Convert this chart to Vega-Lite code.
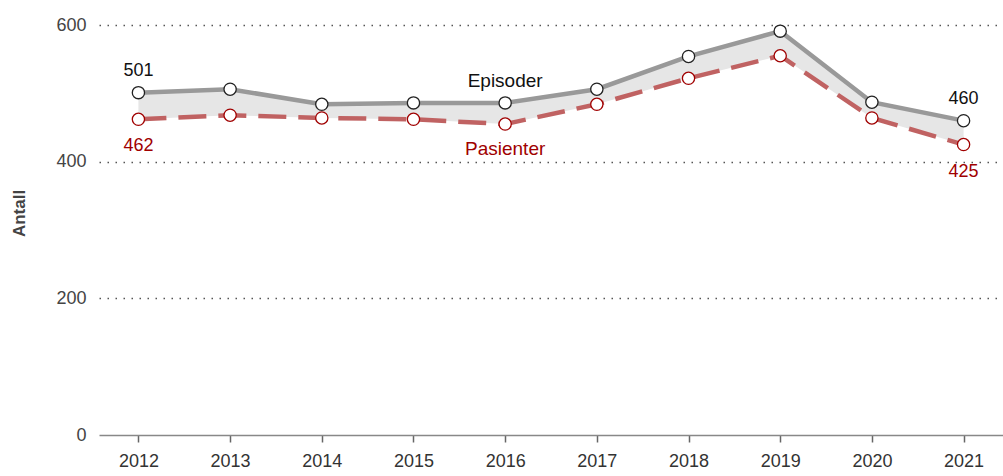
{
  "$schema": "https://vega.github.io/schema/vega-lite/v6.json",
  "autosize": {"type": "none"},
  "width": 904,
  "height": 410,
  "padding": {"left": 99, "top": 25, "right": 0, "bottom": 41},
  "background": "white",
  "config": {
    "view": {"stroke": null},
    "font": "Liberation Sans",
    "text": {"font": "Liberation Sans"}
  },
  "data": {
    "values": [
      {"year": "2012", "Episoder": 501, "Pasienter": 462},
      {"year": "2013", "Episoder": 506, "Pasienter": 468},
      {"year": "2014", "Episoder": 484, "Pasienter": 464},
      {"year": "2015", "Episoder": 486, "Pasienter": 462},
      {"year": "2016", "Episoder": 486, "Pasienter": 455},
      {"year": "2017", "Episoder": 506, "Pasienter": 484},
      {"year": "2018", "Episoder": 554, "Pasienter": 522},
      {"year": "2019", "Episoder": 591, "Pasienter": 555},
      {"year": "2020", "Episoder": 487, "Pasienter": 464},
      {"year": "2021", "Episoder": 460, "Pasienter": 425}
    ]
  },
  "encoding": {
    "x": {
      "field": "year",
      "type": "ordinal",
      "scale": {"type": "point", "padding": 0.43},
      "axis": {
        "title": null,
        "zindex": 1,
        "labelAngle": 0,
        "labelFontSize": 18,
        "labelColor": "#333333",
        "labelPadding": 10,
        "domainColor": "#888888",
        "domainWidth": 1.5,
        "tickColor": "#666666",
        "tickSize": 7,
        "tickWidth": 1.5,
        "grid": false
      }
    }
  },
  "layer": [
    {
      "mark": {"type": "area", "color": "#e6e6e6"},
      "encoding": {
        "y": {
          "field": "Episoder",
          "type": "quantitative",
          "scale": {"domain": [0, 600], "nice": false},
          "axis": {
            "title": "Antall",
            "titleFontSize": 17,
            "titleFontWeight": "bold",
            "titleColor": "#444444",
            "titleX": -80,
            "titleY": 188,
            "titleAlign": "center",
            "titleBaseline": "middle",
            "values": [0, 200, 400, 600],
            "labelFontSize": 18,
            "labelColor": "#444444",
            "labelPadding": 13,
            "domain": false,
            "ticks": false,
            "grid": true,
            "gridColor": "#555555",
            "gridDash": [1.5, 6.5],
            "gridWidth": 1.5,
            "gridOpacity": {"condition": {"test": "datum.value == 0", "value": 0}, "value": 1}
          }
        },
        "y2": {"field": "Pasienter"}
      }
    },
    {
      "mark": {"type": "line", "color": "#999999", "strokeWidth": 4.5},
      "encoding": {"y": {"field": "Episoder", "type": "quantitative"}}
    },
    {
      "mark": {"type": "line", "color": "#c06262", "strokeWidth": 4.5, "strokeDash": [28, 12]},
      "encoding": {"y": {"field": "Pasienter", "type": "quantitative"}}
    },
    {
      "mark": {"type": "point", "filled": true, "fill": "white", "stroke": "#222222", "strokeWidth": 1.3, "size": 150, "opacity": 1},
      "encoding": {"y": {"field": "Episoder", "type": "quantitative"}}
    },
    {
      "mark": {"type": "point", "filled": true, "fill": "white", "stroke": "#a00000", "strokeWidth": 1.3, "size": 150, "opacity": 1},
      "encoding": {"y": {"field": "Pasienter", "type": "quantitative"}}
    },
    {
      "transform": [{"filter": "datum.year == '2012' || datum.year == '2021'"}],
      "mark": {"type": "text", "fontSize": 18, "color": "#111111", "dy": -22},
      "encoding": {
        "y": {"field": "Episoder", "type": "quantitative"},
        "text": {"field": "Episoder", "type": "quantitative"}
      }
    },
    {
      "transform": [{"filter": "datum.year == '2012' || datum.year == '2021'"}],
      "mark": {"type": "text", "fontSize": 18, "color": "#a00000", "dy": 27},
      "encoding": {
        "y": {"field": "Pasienter", "type": "quantitative"},
        "text": {"field": "Pasienter", "type": "quantitative"}
      }
    },
    {
      "transform": [{"filter": "datum.year == '2016'"}],
      "mark": {"type": "text", "fontSize": 19, "color": "#111111", "dy": -22, "text": "Episoder"},
      "encoding": {
        "y": {"field": "Episoder", "type": "quantitative"}
      }
    },
    {
      "transform": [{"filter": "datum.year == '2016'"}],
      "mark": {"type": "text", "fontSize": 19, "color": "#a00000", "dy": 25, "text": "Pasienter"},
      "encoding": {
        "y": {"field": "Pasienter", "type": "quantitative"}
      }
    }
  ]
}
